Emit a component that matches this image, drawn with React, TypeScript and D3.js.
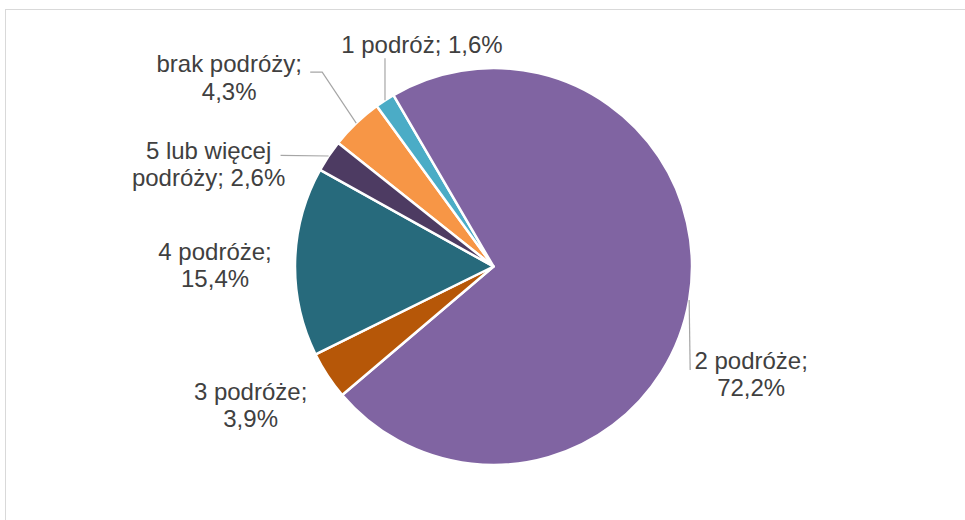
import React from "react";
import * as d3 from "d3";

const categories = ["brak podróży", "1 podróż", "2 podróże", "3 podróże", "4 podróże", "5 lub więcej podróży"];
const values = [4.3, 1.6, 72.2, 3.9, 15.4, 2.6];
const colors = ["#F79646", "#4BACC6", "#8064A2", "#B65708", "#276A7C", "#4D3B62"];
// label text lines
const labelLines = [
  ["brak podróży;", "4,3%"],
  ["1 podróż; 1,6%"],
  ["2 podróże;", "72,2%"],
  ["3 podróże;", "3,9%"],
  ["4 podróże;", "15,4%"],
  ["5 lub więcej", "podróży; 2,6%"],
];
// label offsets relative to the slice's outer mid-point: [dx, dy] of first-line baseline
const labelOffsets = [
  [-127, -51],
  [37, -47],
  [62, 69],
  [-77, 24],
  [-80, -2],
  [-120, 2.5],
];
// leader line points relative to anchor (empty = none)
const leaderOffsets: number[][][] = [
  [[-34, -51], [-46, -51]],
  [[0, -42]],
  [[1, 70]],
  [],
  [],
  [[-48, -0.7]],
];

const W = 965;
const H = 520;
const cx = 493.5;
const cy = 266.5;
const R = 198.5;
const startDeg = -51.5;

export default function App() {
  const pie = d3
    .pie<number>()
    .sort(null)
    .value((d) => d)
    .startAngle((startDeg * Math.PI) / 180)
    .endAngle((startDeg * Math.PI) / 180 + 2 * Math.PI);
  const arcs = pie(values);
  const arcGen = d3.arc<d3.PieArcDatum<number>>().innerRadius(0).outerRadius(R);
  const lineH = 27.5;

  return (
    <div style={{ position: "absolute", left: 0, top: 0 }}>
      <svg width={W} height={H} style={{ display: "block", background: "#fff" }}>
        <rect x={5.5} y={9.5} width={1000} height={600} fill="#fff" stroke="#d9d9d9" strokeWidth={1} />
        <g transform={`translate(${cx},${cy})`}>
          {arcs.map((a, i) => (
            <path key={categories[i]} d={arcGen(a) || ""} fill={colors[i]} stroke="#fff" strokeWidth={2.5} strokeLinejoin="round" />
          ))}
        </g>
        {arcs.map((a, i) => {
          const mid = (a.startAngle + a.endAngle) / 2;
          const ax = cx + R * Math.sin(mid);
          const ay = cy - R * Math.cos(mid);
          const [dx, dy] = labelOffsets[i];
          const lead = leaderOffsets[i];
          const pts = [[ax, ay], ...lead.map(([ox, oy]) => [ax + ox, ay + oy])];
          return (
            <g key={"l" + i}>
              {lead.length > 0 && (
                <polyline
                  points={pts.map((p) => p.join(",")).join(" ")}
                  fill="none"
                  stroke="#a6a6a6"
                  strokeWidth={1.2}
                />
              )}
              <text
                x={ax + dx}
                y={ay + dy}
                textAnchor="middle"
                fontFamily="'Liberation Sans', Arial, sans-serif"
                fontSize={24}
                fill="#404040"
              >
                {labelLines[i].map((t, j) => (
                  <tspan key={j} x={ax + dx} y={ay + dy + j * lineH}>
                    {t}
                  </tspan>
                ))}
              </text>
            </g>
          );
        })}
      </svg>
    </div>
  );
}
